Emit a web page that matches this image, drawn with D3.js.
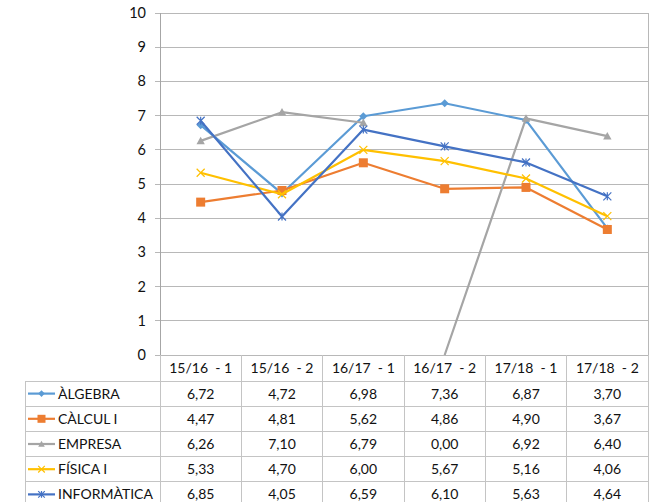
<!DOCTYPE html>
<html><head><meta charset="utf-8">
<script src="https://cdn.jsdelivr.net/npm/d3@7"></script>
<style>
body{margin:0;background:#fff;}
text{font-family:Lato,"Open Sans",sans-serif;fill:#111;}
</style></head>
<body><svg id="c" width="652" height="502"></svg>
<script>
const categories = ["15/16  - 1","15/16  - 2","16/17  - 1","16/17  - 2","17/18  - 1","17/18  - 2"];
const seriesNames = ["ÀLGEBRA","CÀLCUL I","EMPRESA","FÍSICA I","INFORMÀTICA"];
const algebra = [6.72,4.72,6.98,7.36,6.87,3.70];
const calcul = [4.47,4.81,5.62,4.86,4.90,3.67];
const empresa = [6.26,7.10,6.79,0.00,6.92,6.40];
const fisica = [5.33,4.70,6.00,5.67,5.16,4.06];
const informatica = [6.85,4.05,6.59,6.10,5.63,4.64];
// EMPRESA: the segment 16/17-1 -> 16/17-2 is not drawn in the source, nor the 0,00 marker
const empresaMissingSegment = [2];
const empresaHiddenMarker = [3];
const yTicks = [0,1,2,3,4,5,6,7,8,9,10];

const seriesValues = [algebra,calcul,empresa,fisica,informatica];
const colors = ["#5B9BD5","#ED7D31","#A5A5A5","#FFC000","#4472C4"];
const markers = ["diamond","square","triangle","x","star"];

const svg = d3.select("#c");
const L=160, R=648, T=13, B=355;
const x = d3.scaleBand().domain(categories).range([L,R]);
const y = d3.scaleLinear().domain([0,10]).range([B,T]);
const cx = i => x(categories[i]) + x.bandwidth()/2;
const gridCol="#b8b8b8", tableCol="#c4c4c4";

// gridlines
svg.append("g").selectAll("line").data(yTicks).join("line")
  .attr("x1",L-5).attr("x2",R).attr("y1",d=>y(d)).attr("y2",d=>y(d))
  .attr("stroke",gridCol).attr("stroke-width",1).attr("shape-rendering","crispEdges");
// y labels
svg.append("g").selectAll("text").data(yTicks).join("text")
  .attr("x",146).attr("y",d=>y(d)).attr("dy","0.35em").attr("text-anchor","end")
  .attr("font-size",14.5).text(d=>d);
// axis lines
svg.append("line").attr("x1",L).attr("x2",L).attr("y1",T).attr("y2",B).attr("stroke","#a6a6a6").attr("shape-rendering","crispEdges");
svg.append("line").attr("x1",R).attr("x2",R).attr("y1",T).attr("y2",B).attr("stroke",gridCol).attr("shape-rendering","crispEdges");

// table
const rowTop = 381, rowH = 25.2, tableLeft = 25;
const tbl = svg.append("g").attr("shape-rendering","crispEdges");
categories.forEach((c,i)=>{
  tbl.append("line").attr("x1",x(c)+x.bandwidth()).attr("x2",x(c)+x.bandwidth()).attr("y1",B).attr("y2",512).attr("stroke",tableCol);
});
tbl.append("line").attr("x1",L).attr("x2",L).attr("y1",B).attr("y2",512).attr("stroke",tableCol);
tbl.append("line").attr("x1",tableLeft).attr("x2",tableLeft).attr("y1",rowTop).attr("y2",512).attr("stroke",tableCol);
d3.range(seriesNames.length+1).forEach(i=>{
  tbl.append("line").attr("x1",tableLeft).attr("x2",R).attr("y1",rowTop+i*rowH).attr("y2",rowTop+i*rowH).attr("stroke",tableCol);
});
svg.append("g").selectAll("text").data(categories).join("text")
  .attr("x",d=>x(d)+x.bandwidth()/2).attr("y",(B+rowTop)/2).attr("dy","0.35em")
  .attr("text-anchor","middle").attr("font-size",14)
  .style("white-space","pre").text(d=>d);

function drawMarker(g, type, color, size){
  const s=size;
  if(type==="diamond"){
    g.append("path").attr("d",`M0,${-s}L${s},0L0,${s}L${-s},0Z`).attr("fill",color);
  } else if(type==="square"){
    g.append("rect").attr("x",-s).attr("y",-s).attr("width",2*s).attr("height",2*s).attr("fill",color);
  } else if(type==="triangle"){
    g.append("path").attr("d",`M0,${-s}L${s},${s*0.8}L${-s},${s*0.8}Z`).attr("fill",color);
  } else if(type==="x"){
    g.append("path").attr("d",`M${-s},${-s}L${s},${s}M${-s},${s}L${s},${-s}`).attr("stroke",color).attr("stroke-width",1.2).attr("fill","none");
  } else if(type==="star"){
    g.append("path").attr("d",`M${-s},${-s}L${s},${s}M${-s},${s}L${s},${-s}M0,${-s}L0,${s}`).attr("stroke",color).attr("stroke-width",1.2).attr("fill","none");
  }
}
const mSize=[4,4.5,4.2,4,4];

seriesValues.forEach((vals,si)=>{
  const g = svg.append("g");
  const missing = si===2 ? empresaMissingSegment : [];
  const hidden = si===2 ? empresaHiddenMarker : [];
  // split into runs at missing segments
  let runs=[], cur=[];
  vals.forEach((v,i)=>{
    cur.push([cx(i), y(v)]);
    if(missing.includes(i)){ runs.push(cur); cur=[]; }
  });
  runs.push(cur);
  runs.filter(r=>r.length>1).forEach(r=>{
    g.append("path").attr("d",d3.line()(r)).attr("fill","none")
      .attr("stroke",colors[si]).attr("stroke-width",2.2).attr("stroke-linejoin","round");
  });
  vals.forEach((v,i)=>{
    if(hidden.includes(i)) return;
    const mg = g.append("g").attr("transform",`translate(${cx(i)},${y(v)})`);
    drawMarker(mg, markers[si], colors[si], mSize[si]);
  });
});

seriesNames.forEach((name,si)=>{
  const cy = rowTop + si*rowH + rowH/2;
  const lg = svg.append("g");
  lg.append("line").attr("x1",28).attr("x2",55).attr("y1",cy).attr("y2",cy).attr("stroke",colors[si]).attr("stroke-width",2.2);
  const mg = lg.append("g").attr("transform",`translate(41.5,${cy})`);
  drawMarker(mg, markers[si], colors[si], si===1?4:3.3);
  lg.append("text").attr("x",58).attr("y",cy).attr("dy","0.35em").attr("font-size",14).text(name);
  seriesValues[si].forEach((v,i)=>{
    svg.append("text").attr("x",cx(i)).attr("y",cy).attr("dy","0.35em")
      .attr("text-anchor","middle").attr("font-size",14).text(v.toFixed(2).replace(".",","));
  });
});
</script></body></html>
